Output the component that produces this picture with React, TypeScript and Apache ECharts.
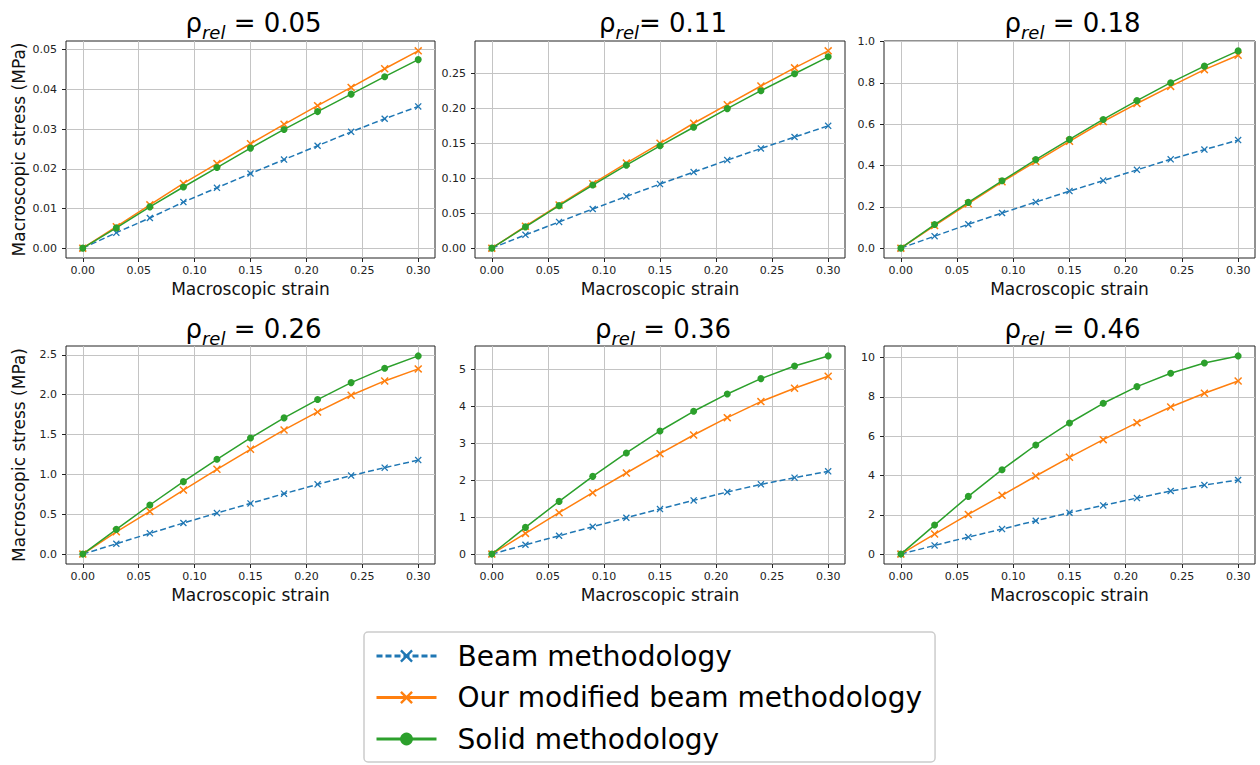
import React, { useEffect, useRef } from 'react';
import * as echarts from 'echarts';

// ---------- data ----------
const strain = [0, 0.03, 0.06, 0.09, 0.12, 0.15, 0.18, 0.21, 0.24, 0.27, 0.3];
const rhoLabels = ['0.05', '0.11', '0.18', '0.26', '0.36', '0.46'];
const seriesNames = ['Beam methodology', 'Our modified beam methodology', 'Solid methodology'];

const beam005 = [0, 0.0039, 0.0076, 0.0116, 0.0152, 0.0188, 0.0223, 0.0258, 0.0293, 0.0326, 0.0357];
const modified005 = [0, 0.0054, 0.0109, 0.0163, 0.0213, 0.0263, 0.0312, 0.0359, 0.0405, 0.0452, 0.0497];
const solid005 = [0, 0.0051, 0.0104, 0.0154, 0.0203, 0.0252, 0.0299, 0.0344, 0.0388, 0.0432, 0.0475];

const beam011 = [0, 0.019, 0.0375, 0.056, 0.074, 0.0917, 0.1088, 0.126, 0.1426, 0.159, 0.175];
const modified011 = [0, 0.0314, 0.0618, 0.0922, 0.1217, 0.15, 0.1787, 0.2053, 0.232, 0.258, 0.2823];
const solid011 = [0, 0.0304, 0.0608, 0.0903, 0.1188, 0.1464, 0.173, 0.1996, 0.2253, 0.2495, 0.2738];

const beam018 = [0, 0.058, 0.1156, 0.17, 0.223, 0.276, 0.327, 0.379, 0.43, 0.477, 0.523];
const modified018 = [0, 0.109, 0.215, 0.321, 0.419, 0.517, 0.613, 0.7, 0.783, 0.864, 0.934];
const solid018 = [0, 0.114, 0.2215, 0.326, 0.4286, 0.5265, 0.623, 0.714, 0.801, 0.881, 0.955];

const beam026 = [0, 0.13, 0.26, 0.39, 0.515, 0.636, 0.758, 0.875, 0.985, 1.085, 1.18];
const modified026 = [0, 0.28, 0.536, 0.804, 1.064, 1.315, 1.558, 1.784, 1.993, 2.173, 2.324];
const solid026 = [0, 0.31, 0.616, 0.909, 1.19, 1.457, 1.709, 1.939, 2.152, 2.333, 2.487];

const beam036 = [0, 0.253, 0.496, 0.74, 0.984, 1.218, 1.453, 1.679, 1.886, 2.067, 2.238];
const modified036 = [0, 0.56, 1.12, 1.66, 2.193, 2.717, 3.222, 3.691, 4.125, 4.486, 4.81];
const solid036 = [0, 0.722, 1.426, 2.103, 2.735, 3.33, 3.863, 4.332, 4.747, 5.09, 5.361];

const beam046 = [0, 0.441, 0.866, 1.273, 1.698, 2.105, 2.479, 2.852, 3.209, 3.514, 3.769];
const modified046 = [0, 1.019, 2.02, 2.988, 3.973, 4.924, 5.823, 6.689, 7.487, 8.183, 8.81];
const solid046 = [0, 1.477, 2.937, 4.295, 5.552, 6.672, 7.674, 8.523, 9.202, 9.728, 10.085];

const xTicks = [0, 0.05, 0.1, 0.15, 0.2, 0.25, 0.3];
const yTicks005 = [0, 0.01, 0.02, 0.03, 0.04, 0.05];
const yTicks011 = [0, 0.05, 0.1, 0.15, 0.2, 0.25];
const yTicks018 = [0, 0.2, 0.4, 0.6, 0.8, 1.0];
const yTicks026 = [0, 0.5, 1.0, 1.5, 2.0, 2.5];
const yTicks036 = [0, 1, 2, 3, 4, 5];
const yTicks046 = [0, 2, 4, 6, 8, 10];

const xAxisName = 'Macroscopic strain';
const yAxisName = 'Macroscopic stress (MPa)';

// ---------- layout / style ----------
const panels = [
  { beam: beam005, modified: modified005, solid: solid005, ticks: yTicks005, dec: 2, eq: ' = ' },
  { beam: beam011, modified: modified011, solid: solid011, ticks: yTicks011, dec: 2, eq: '= ' },
  { beam: beam018, modified: modified018, solid: solid018, ticks: yTicks018, dec: 1, eq: ' = ' },
  { beam: beam026, modified: modified026, solid: solid026, ticks: yTicks026, dec: 1, eq: ' = ' },
  { beam: beam036, modified: modified036, solid: solid036, ticks: yTicks036, dec: 0, eq: ' = ' },
  { beam: beam046, modified: modified046, solid: solid046, ticks: yTicks046, dec: 0, eq: ' = ' },
];
const cols = [
  [66, 369],
  [475, 370],
  [884, 371],
];
const rows = [
  [41, 217],
  [346, 218],
];
const titleBottoms = [41, 347];

const FONT = 'DejaVu Sans';
const BLUE = '#1f77b4';
const ORANGE = '#ff7f0e';
const GREEN = '#2ca02c';
const XMARK =
  'path://M0,1.3L1.3,0L5,3.7L8.7,0L10,1.3L6.3,5L10,8.7L8.7,10L5,6.3L1.3,10L0,8.7L3.7,5Z';

function buildOption() {
  const grid: any[] = [];
  const xAxis: any[] = [];
  const yAxis: any[] = [];
  const series: any[] = [];
  const graphic: any[] = [];

  panels.forEach((p, i) => {
    const r = Math.floor(i / 3);
    const c = i % 3;
    const [left, width] = cols[c];
    const [top, height] = rows[r];
    grid.push({
      left,
      top,
      width,
      height,
      show: true,
      backgroundColor: '#fff',
      borderColor: '#222',
      borderWidth: 1,
      containLabel: false,
      outerBoundsMode: 'none',
    });
    xAxis.push({
      type: 'value',
      gridIndex: i,
      min: -0.015,
      max: 0.315,
      name: xAxisName,
      nameLocation: 'middle',
      nameGap: 22,
      nameTextStyle: { fontFamily: FONT, fontSize: 17, color: '#111' },
      axisLine: { show: false, onZero: false },
      axisTick: { show: true, length: 4, lineStyle: { color: '#222' }, customValues: xTicks },
      axisLabel: {
        customValues: xTicks,
        margin: 7,
        fontFamily: FONT,
        fontSize: 11,
        color: '#222',
        formatter: (v: number) => v.toFixed(2),
      },
      splitLine: { show: true, lineStyle: { color: '#c4c4c4', width: 1 } },
    });
    const maxV = Math.max(...p.beam, ...p.modified, ...p.solid);
    const span = maxV;
    yAxis.push({
      type: 'value',
      gridIndex: i,
      min: -0.05 * span,
      max: maxV + 0.05 * span,
      name: c === 0 ? yAxisName : '',
      nameLocation: 'middle',
      nameGap: 39,
      nameRotate: 90,
      nameTextStyle: { fontFamily: FONT, fontSize: 17, color: '#111' },
      axisLine: { show: false, onZero: false },
      axisTick: { show: true, length: 4, lineStyle: { color: '#222' }, customValues: p.ticks },
      axisLabel: {
        customValues: p.ticks,
        margin: 9,
        fontFamily: FONT,
        fontSize: 11,
        color: '#222',
        formatter: (v: number) => v.toFixed(p.dec),
      },
      splitLine: { show: true, lineStyle: { color: '#c4c4c4', width: 1 } },
    });

    const mk = (vals: number[]) => strain.map((x, k) => [x, vals[k]]);
    series.push({
      type: 'line',
      name: seriesNames[0],
      xAxisIndex: i,
      yAxisIndex: i,
      data: mk(p.beam),
      symbol: XMARK,
      symbolSize: 7,
      showAllSymbol: true,
      lineStyle: { color: BLUE, width: 1.5, type: [6, 3] },
      itemStyle: { color: BLUE },
      z: 2,
    });
    series.push({
      type: 'line',
      name: seriesNames[1],
      xAxisIndex: i,
      yAxisIndex: i,
      data: mk(p.modified),
      symbol: XMARK,
      symbolSize: 8,
      showAllSymbol: true,
      lineStyle: { color: ORANGE, width: 1.5 },
      itemStyle: { color: ORANGE },
      z: 3,
    });
    series.push({
      type: 'line',
      name: seriesNames[2],
      xAxisIndex: i,
      yAxisIndex: i,
      data: mk(p.solid),
      symbol: 'circle',
      symbolSize: 7,
      showAllSymbol: true,
      lineStyle: { color: GREEN, width: 1.5 },
      itemStyle: { color: GREEN },
      z: 4,
    });

    graphic.push({
      type: 'text',
      x: left + width / 2 + 3,
      y: titleBottoms[r],
      style: {
        text: `{a|ρ}{s|rel}{a|${p.eq}${rhoLabels[i]}}`,
        align: 'center',
        verticalAlign: 'bottom',
        rich: {
          a: {
            fontFamily: FONT,
            fontSize: 26,
            lineHeight: 26,
            color: '#000',
            padding: [0, 0, 5, 0],
            verticalAlign: 'bottom',
          },
          s: {
            fontFamily: FONT,
            fontSize: 18,
            lineHeight: 18,
            fontStyle: 'italic',
            color: '#000',
            verticalAlign: 'bottom',
          },
        },
      },
    });
  });

  return {
    animation: false,
    backgroundColor: '#fff',
    grid,
    xAxis,
    yAxis,
    series,
    graphic,
    legend: {
      data: seriesNames,
      orient: 'vertical',
      left: 364,
      top: 632,
      itemWidth: 60,
      itemHeight: 16,
      itemGap: 11.5,
      padding: [9, 13, 8, 11],
      backgroundColor: '#fff',
      borderColor: '#cccccc',
      borderWidth: 1.5,
      borderRadius: 4,
      selectedMode: false,
      lineStyle: { width: 3 },
      textStyle: {
        fontFamily: FONT,
        fontSize: 28,
        lineHeight: 30,
        color: '#000',
        padding: [0, 0, 0, 16],
      },
    },
  };
}

export default function App() {
  const ref = useRef<HTMLDivElement>(null);
  useEffect(() => {
    if (!ref.current) return;
    const chart = echarts.init(ref.current, undefined, { renderer: 'svg' });
    chart.setOption(buildOption() as any);
    return () => chart.dispose();
  }, []);
  return (
    <div
      ref={ref}
      style={{ position: 'fixed', left: 0, top: 0, width: 1260, height: 765, background: '#fff' }}
    />
  );
}
